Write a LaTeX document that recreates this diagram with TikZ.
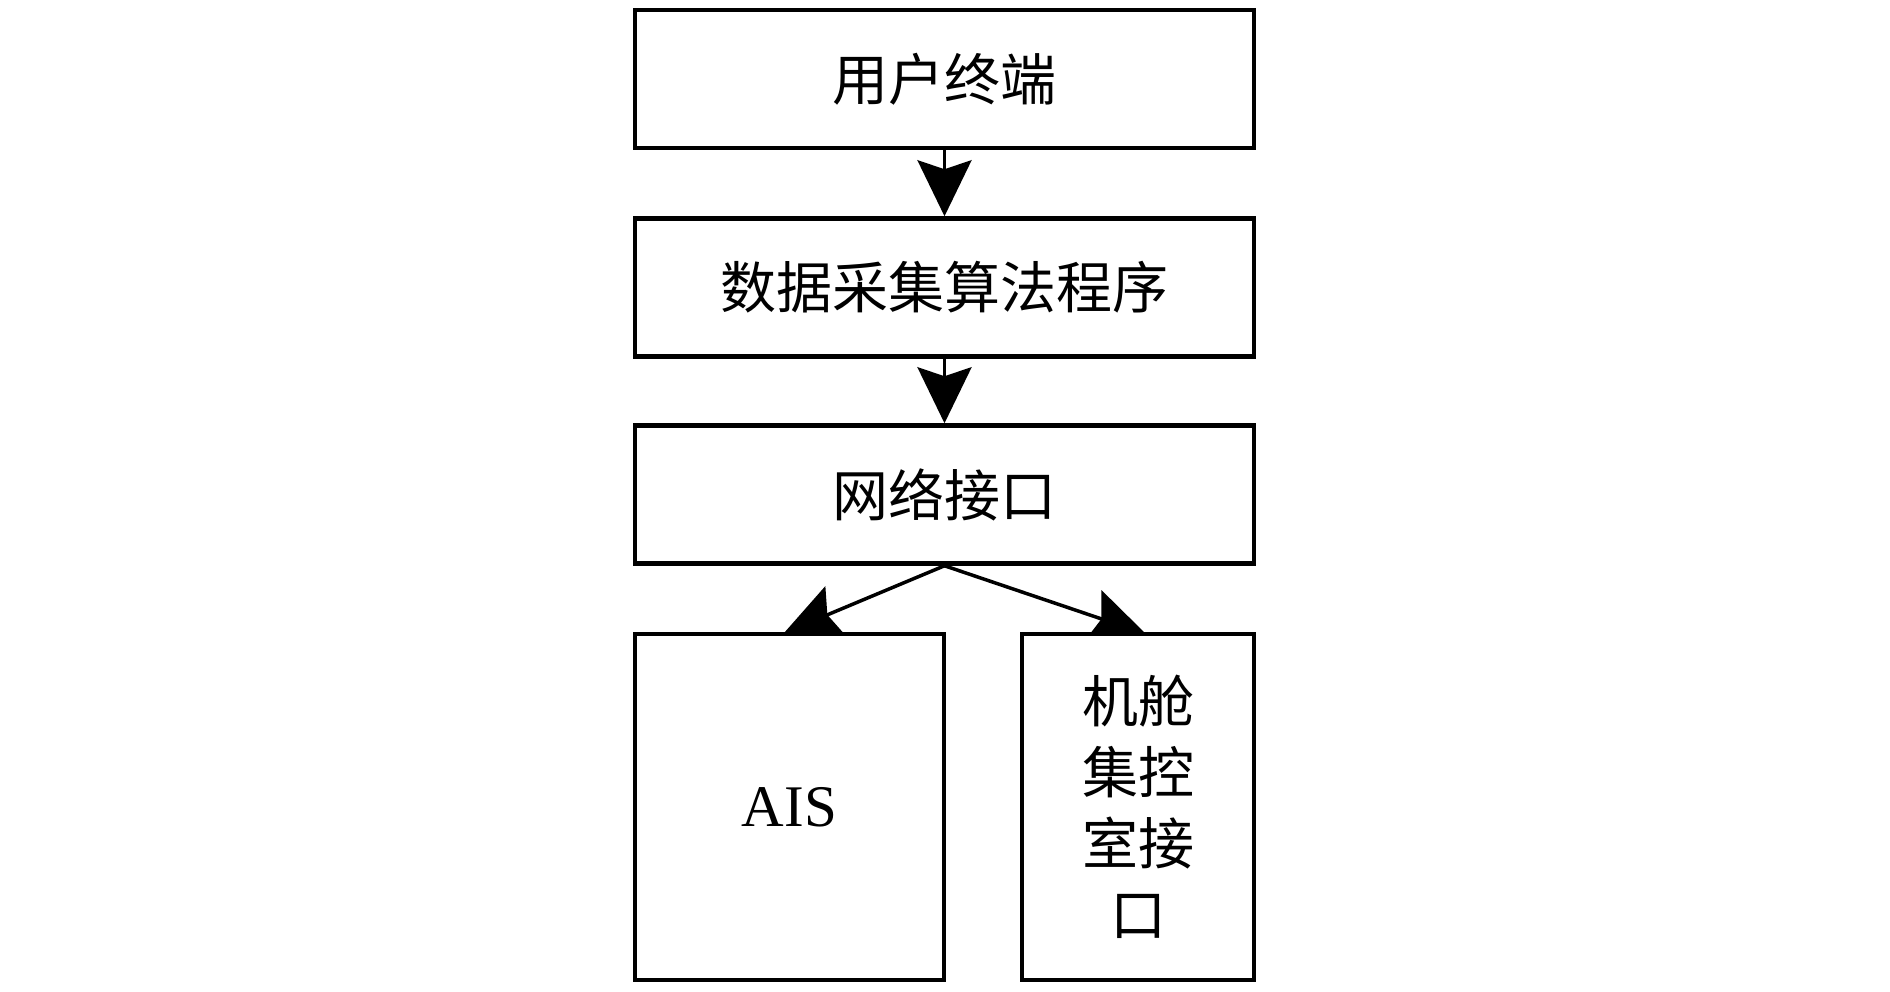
\documentclass[tikz,border=0pt]{standalone}
\usepackage{fontspec}
\setmainfont{Liberation Serif}
\newfontfamily\cjk{Noto Sans CJK SC}
\usetikzlibrary{arrows.meta}
\pgfdeclarelayer{bg}
\pgfsetlayers{bg,main}
\begin{document}
\begin{tikzpicture}[x=1pt,y=-1pt,
  box/.style={draw, line width=4.5pt, fill=white, rectangle, inner sep=0pt, align=center,
    font=\cjk\fontsize{56}{71}\selectfont},
  conn/.style={line width=3.5pt, -{Stealth[length=56pt,width=54pt,inset=9pt]}}]
\useasboundingbox (0,0) rectangle (1890,992);
\node[box, minimum width=619pt, minimum height=138pt] (n1) at (944.5,79) {用户终端};
\node[box, minimum width=619pt, minimum height=138pt] (n2) at (944.5,287.5) {数据采集算法程序};
\node[box, minimum width=619pt, minimum height=138pt] (n3) at (944.5,494.5) {网络接口};
\node[box, minimum width=309pt, minimum height=346pt, font=\fontsize{59}{72}\selectfont] (ais) at (789.5,807) {AIS};
\node[box, minimum width=232pt, minimum height=346pt] (ecr) at (1138,807) {机舱\\集控\\室接\\口};
\coordinate (tL) at (784,633);
\coordinate (tR) at (1146,634);
\begin{pgfonlayer}{bg}
\draw[conn] (n1.south) -- (n2.north);
\draw[conn] (n2.south) -- (n3.north);
\draw[conn] (n3.south) -- (tL);
\draw[conn] (n3.south) -- (tR);
\end{pgfonlayer}
\end{tikzpicture}
\end{document}
